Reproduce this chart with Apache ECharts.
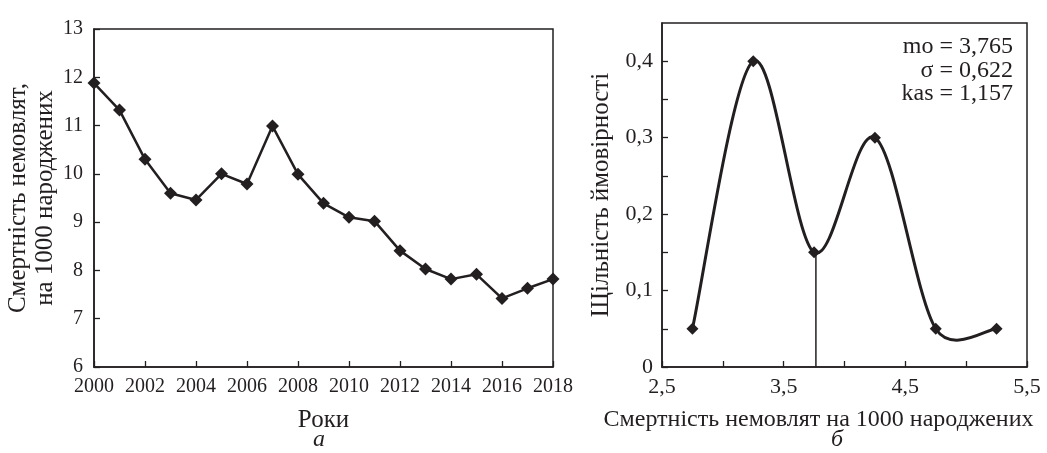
<!DOCTYPE html>
<html><head><meta charset="utf-8">
<script src="https://cdn.jsdelivr.net/npm/echarts@6/dist/echarts.min.js"></script>
<style>html,body{margin:0;padding:0;background:#fff}#c{width:1047px;height:453px}</style>
</head><body><div id="c"></div>
<script>
// ---- data ----
const years = [2000,2001,2002,2003,2004,2005,2006,2007,2008,2009,2010,2011,2012,2013,2014,2015,2016,2017,2018];
const mortality = [11.88,11.32,10.3,9.6,9.46,10.0,9.79,10.99,9.99,9.39,9.1,9.02,8.41,8.03,7.82,7.92,7.42,7.63,7.82];
const densityX = [2.75,3.25,3.75,4.25,4.75,5.25];
const densityY = [0.05,0.4,0.15,0.3,0.05,0.05];
const modeValue = 3.765;
const modeDensity = 0.15;
const statLines = ['mo = 3,765','σ = 0,622','kas = 1,157'];
const leftYName = 'Смертність немовлят,\nна 1000 народжених';
const leftXName = 'Роки';
const rightYName = 'Щільність ймовірності';
const rightXName = 'Смертність немовлят на 1000 народжених';
const panelLabels = ['а','б'];

const ink = '#231f20';
const ff = '"Liberation Serif", "DejaVu Serif", serif';
const fmtComma = v => String(+v.toFixed(2)).replace('.', ',');

const chart = echarts.init(document.getElementById('c'), null, {renderer:'canvas'});
const axisCommon = () => ({
  axisLine:{show:true,onZero:false,lineStyle:{color:ink,width:1.5}},
  axisTick:{show:true,inside:true,length:6,lineStyle:{color:ink,width:1.3}},
  splitLine:{show:false}
});
const densityPts = densityX.map((x,i)=>[x,densityY[i]]);
const dist = (a,b) => Math.hypot(a[0]-b[0], a[1]-b[1]);
// Excel-style smoothed segment: arm = (next-prev)/6, capped at half the segment
const armFactor = (pPrev, pNext, segLen) => {
  const d = dist(pPrev, pNext);
  if (d === 0) return 0;
  return Math.min(1/6, segLen/(2*d));
};
const option = {
  backgroundColor:'#fff',
  animation:false,
  grid:[
    {left:94,top:29,width:459,height:338,show:true,borderColor:ink,borderWidth:1.5,backgroundColor:'transparent'},
    {left:662,top:23,width:365,height:344,show:true,borderColor:ink,borderWidth:1.5,backgroundColor:'transparent'}
  ],
  xAxis:[
    Object.assign(axisCommon(),{gridIndex:0,type:'value',min:2000,max:2018,interval:2,
      name:leftXName,nameLocation:'middle',nameGap:41,
      nameTextStyle:{color:ink,fontFamily:ff,fontSize:25},
      axisLabel:{color:ink,fontFamily:ff,fontSize:20,margin:10,showMaxLabel:true,showMinLabel:true,formatter:v=>String(v)}}),
    Object.assign(axisCommon(),{gridIndex:1,type:'value',min:2.5,max:5.5,interval:0.5,
      name:rightXName,nameLocation:'middle',nameGap:41,
      nameTextStyle:{color:ink,fontFamily:ff,fontSize:24,padding:[0,52,0,0]},
      axisLabel:{color:ink,fontFamily:ff,fontSize:22,margin:9,showMaxLabel:true,showMinLabel:true,
        formatter:v=>{const k=Math.round((v-2.5)*10); return (k%10===0)?fmtComma(v):'';}}})
  ],
  yAxis:[
    Object.assign(axisCommon(),{gridIndex:0,type:'value',min:6,max:13,interval:1,
      name:leftYName,nameLocation:'middle',nameGap:35,nameRotate:90,
      nameTextStyle:{color:ink,fontFamily:ff,fontSize:25,lineHeight:27},
      axisLabel:{color:ink,fontFamily:ff,fontSize:20,margin:11}}),
    Object.assign(axisCommon(),{gridIndex:1,type:'value',min:0,max:0.45,interval:0.05,
      name:rightYName,nameLocation:'middle',nameGap:48,nameRotate:90,
      nameTextStyle:{color:ink,fontFamily:ff,fontSize:25},
      axisLabel:{color:ink,fontFamily:ff,fontSize:22,margin:9,showMaxLabel:false,
        formatter:v=>{const k=Math.round(v*100); return (k%10===0)?fmtComma(v):'';}}})
  ],
  series:[
    {type:'line',xAxisIndex:0,yAxisIndex:0,data:years.map((y,i)=>[y,mortality[i]]),
      symbol:'diamond',symbolSize:13,lineStyle:{color:ink,width:2.5},itemStyle:{color:ink},clip:false},
    {type:'custom',xAxisIndex:1,yAxisIndex:1,coordinateSystem:'cartesian2d',data:densityPts,encode:{x:0,y:1},
      silent:true,
      renderItem:(params,api)=>{
        const n = densityX.length, i = params.dataIndex;
        if (i >= n-1) return null;
        const P = k => { k = Math.max(0, Math.min(n-1, k)); return api.coord([densityX[k], densityY[k]]); };
        const p0=P(i-1), p1=P(i), p2=P(i+1), p3=P(i+2);
        const seg = dist(p1,p2);
        const f1 = armFactor(p0,p2,seg), f2 = armFactor(p1,p3,seg);
        return {type:'bezierCurve',shape:{x1:p1[0],y1:p1[1],x2:p2[0],y2:p2[1],
          cpx1:p1[0]+(p2[0]-p0[0])*f1, cpy1:p1[1]+(p2[1]-p0[1])*f1,
          cpx2:p2[0]-(p3[0]-p1[0])*f2, cpy2:p2[1]-(p3[1]-p1[1])*f2},
          style:{stroke:ink,lineWidth:3,fill:null}};
      }},
    {type:'scatter',xAxisIndex:1,yAxisIndex:1,data:densityPts,symbol:'diamond',symbolSize:12,
      itemStyle:{color:ink,opacity:1},z:3},
    {type:'line',xAxisIndex:1,yAxisIndex:1,data:[[modeValue,0],[modeValue,modeDensity]],
      symbol:'none',lineStyle:{color:ink,width:1.5},clip:false,silent:true}
  ],
  graphic:[
    {type:'text',x:319,y:440,style:{text:panelLabels[0],fill:ink,font:'italic 24px '+ff,textAlign:'center',textVerticalAlign:'middle'}},
    {type:'text',x:837,y:440,style:{text:panelLabels[1],fill:ink,font:'italic 24px '+ff,textAlign:'center',textVerticalAlign:'middle'}},
    {type:'text',x:1013,y:47,style:{text:statLines[0],fill:ink,font:'24px '+ff,textAlign:'right',textVerticalAlign:'middle'}},
    {type:'text',x:1013,y:71,style:{text:statLines[1],fill:ink,font:'24px '+ff,textAlign:'right',textVerticalAlign:'middle'}},
    {type:'text',x:1013,y:94,style:{text:statLines[2],fill:ink,font:'24px '+ff,textAlign:'right',textVerticalAlign:'middle'}}
  ]
};
chart.setOption(option);
</script></body></html>
